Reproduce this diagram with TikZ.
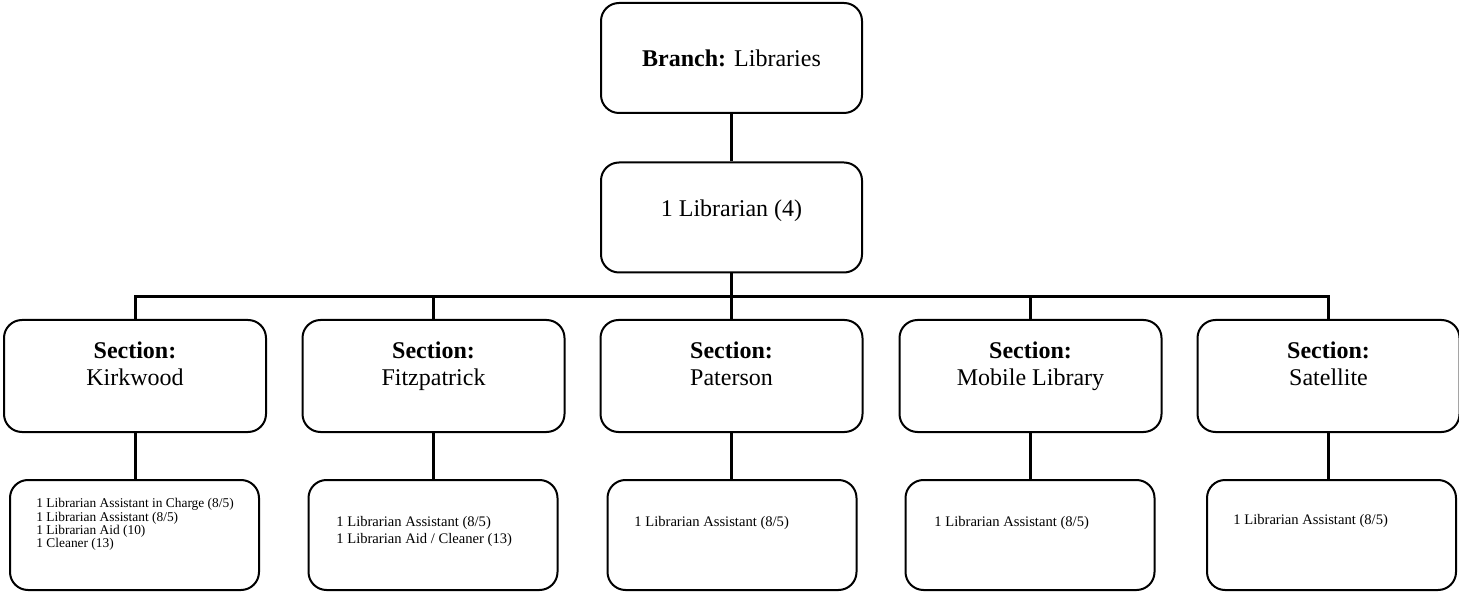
\documentclass[tikz,border=0pt]{standalone}
\usepackage{fontspec}
\setmainfont{Liberation Serif}
\usetikzlibrary{positioning}

\tikzset{
  orgbox/.style={draw, line width=1pt, rounded corners=9pt, minimum width=130.5pt,
                 minimum height=55pt, inner sep=0pt},
  secbox/.style={orgbox, minimum width=131pt, minimum height=56pt},
  staffbox/.style={orgbox, minimum width=124.5pt, minimum height=55pt},
  toptext/.style={font=\fontsize{12}{14}\selectfont},
  sectext/.style={anchor=north, align=center, inner sep=0pt, font=\fontsize{12}{13.5}\selectfont},
  stafftext/.style={anchor=north west, align=left, inner sep=0pt, font=\fontsize{7.3}{8.65}\selectfont},
  link/.style={line width=1.5pt},
}

\begin{document}
\begin{tikzpicture}[x=0.5pt, y=-0.5pt]
            \useasboundingbox (0,0) rectangle (1459,592);
            % head of the branch
            \node[orgbox, toptext] (branch) at (731.5,58) {\textbf{Branch:} Libraries};
            \node[orgbox, toptext, text depth=9pt] (lib) at (731.5,217.5) {1 Librarian (4)};
            \coordinate (bus) at (731.5,297);
            % sections
            \foreach \n/\x/\sx/\name in {kirk/135/134.5/Kirkwood, fitz/433.5/433/Fitzpatrick,
                    pat/731.5/732/Paterson, mob/1030.5/1030/Mobile Library, sat/1328.5/1331.5/Satellite} {
                \node[secbox] (\n) at (\x,376) {};
                \node[sectext] (\n t) at (\x,341) {\textbf{Section:}\\\name};
                \node[staffbox] (\n s) at (\sx,535) {};
            }
            % staff of each section
            \node[stafftext, font=\fontsize{6.7}{6.7}\selectfont] (kirkl) at (36,498)
                {1 Librarian Assistant in Charge (8/5)\\1 Librarian Assistant (8/5)\\1 Librarian Aid (10)\\1 Cleaner (13)};
            \node[stafftext] (fitzl) at (336,516)
                {1 Librarian Assistant (8/5)\\1 Librarian Aid / Cleaner (13)};
            \node[stafftext] (patl) at (634,516) {1 Librarian Assistant (8/5)};
            \node[stafftext] (mobl) at (934,516) {1 Librarian Assistant (8/5)};
            \node[stafftext] (satl) at (1233,514) {1 Librarian Assistant (8/5)};
            % connectors
            \draw[link] (branch) -- (lib);
            \draw[link] (lib) -- (bus);
            \draw[link] (kirk.north) -- (kirk.north |- bus) -- (sat.north |- bus) -- (sat.north);
            \foreach \n in {fitz,pat,mob}
                \draw[link] (\n.north |- bus) -- (\n.north);
            \foreach \n in {kirk,fitz,pat,mob,sat}
                \draw[link] (\n.south) -- (\n.south |- \n s.north);
\end{tikzpicture}
\end{document}
